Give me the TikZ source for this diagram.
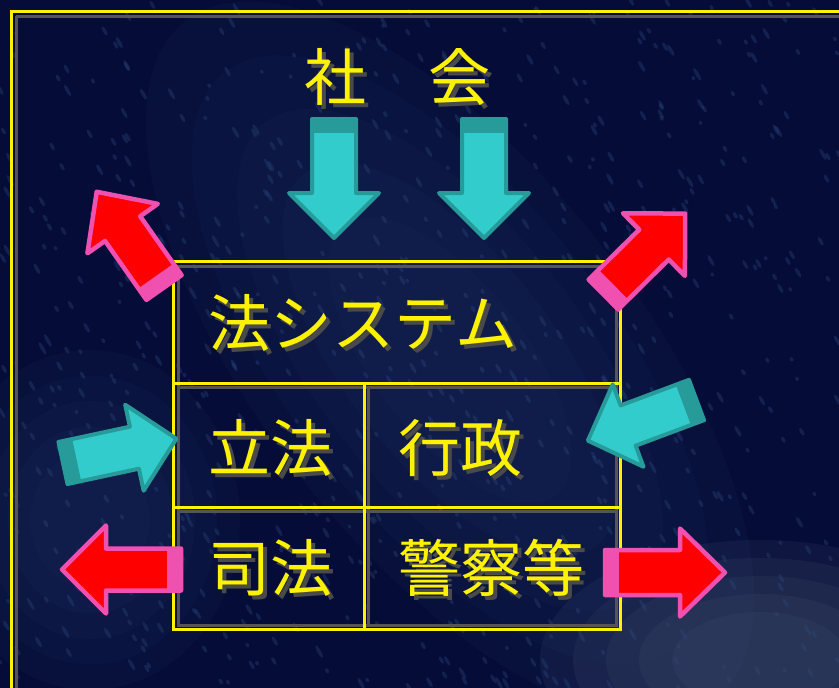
\documentclass[tikz,border=0pt]{standalone}
\usepackage{fontspec}
\newfontfamily\cjk{Noto Sans CJK JP}
\definecolor{bgnavy}{HTML}{060C38}
\definecolor{bglight}{HTML}{2B4A7E}
\definecolor{bggray}{HTML}{4C5C76}
\definecolor{tealfill}{HTML}{33CCCC}
\definecolor{tealedge}{HTML}{279A9A}
\definecolor{redfill}{HTML}{FF0000}
\definecolor{pinkedge}{HTML}{F050B0}
\definecolor{shadowgray}{HTML}{4A4A4A}
\definecolor{framegray}{HTML}{555555}
\tikzset{
  jtext/.style={text=yellow, font=\cjk\fontsize{62}{62}\selectfont, inner sep=0pt},
  jshadow/.style={text=shadowgray, font=\cjk\fontsize{62}{62}\selectfont, inner sep=0pt},
  yline/.style={draw=yellow, line width=3pt},
  gline/.style={draw=framegray, line width=3pt},
  tealarrow/.style={fill=tealfill, draw=tealedge, line width=4pt, line join=round},
  tealband/.style={fill=tealedge},
  redarrow/.style={fill=redfill, draw=pinkedge, line width=4.5pt, line join=round},
  redband/.style={fill=pinkedge},
  glow/.style={fill=#1, opacity=0.07},
}
% tail x, tail y, angle, length, shaft width, head width, head length, arrow style, band style
\newcommand\fatarrow[9]{%
  \begin{scope}[shift={(#1,#2)},rotate=#3]
    \path[#8] (0,-#5/2) -- (#4-#7,-#5/2) -- (#4-#7,-#6/2) -- (#4,0)
      -- (#4-#7,#6/2) -- (#4-#7,#5/2) -- (0,#5/2) -- cycle;
    \path[#9] (-1.5,-#5/2-1.5) rectangle (14,#5/2+1.5);
  \end{scope}}
\newcommand\shtext[4]{%
  \node[jshadow] (#1s) at (#2+4,#3+4) {#4};
  \node[jtext] (#1) at (#2,#3) {#4};}
\begin{document}
\begin{tikzpicture}[x=1pt,y=-1pt]
\useasboundingbox (0,0) rectangle (839,688);
% background
\fill[bgnavy] (0,0) rectangle (839,688);
\begin{scope}
\clip (0,0) rectangle (839,688);
\foreach \s in {1.0,0.85,0.7,0.55,0.4}{
  \fill[glow=bglight, rotate around={-52:(450,360)}] (450,360) ellipse ({430*\s} and {190*\s});
  \fill[glow=bglight] (90,520) ellipse ({150*\s} and {170*\s});
  \fill[glow=bggray, opacity=0.14] (760,660) ellipse ({220*\s} and {120*\s});
}
\pgfmathsetseed{7}
\foreach \i in {1,...,700}{
  \pgfmathsetmacro\xx{rnd*839}
  \pgfmathsetmacro\yy{rnd*688}
  \pgfmathsetmacro\rr{2+rnd*5}
  \fill[bglight, opacity=0.35, rotate around={-60:(\xx,\yy)}] (\xx,\yy) ellipse ({\rr} and 1.8);
}
\end{scope}
% frame
\draw[gline] (16,16) -- (839,16);
\draw[gline] (16,16) -- (16,688);
\draw[yline] (9.5,11) -- (839,11);
\draw[yline] (11,11) -- (11,688);
% table
\draw[gline] (178,266) rectangle (616,625);
\draw[gline] (178,387) -- (616,387);
\draw[gline] (178,511) -- (616,511);
\draw[gline] (368,387) -- (368,625);
\draw[yline] (173,261) rectangle (620,629);
\draw[yline] (173,383) -- (620,383);
\draw[yline] (173,507) -- (620,507);
\draw[yline] (364,383) -- (364,629);
% texts
\shtext{shakai}{397}{77}{社　会}
\shtext{hou}{363}{323}{法システム}
\shtext{rippou}{270}{448}{立法}
\shtext{gyousei}{460}{448}{行政}
\shtext{shihou}{270}{568}{司法}
\shtext{keisatsu}{491}{568}{警察等}
% arrows
\fatarrow{334}{119}{-90}{119}{44}{90}{45}{tealarrow}{tealband}
\fatarrow{484}{119}{-90}{119}{44}{90}{45}{tealarrow}{tealband}
\fatarrow{164}{287.5}{125.1}{117}{43}{86}{45}{redarrow}{redband}
\fatarrow{603.5}{294.5}{44.7}{115}{42}{88}{44}{redarrow}{redband}
\fatarrow{63}{463}{12.1}{116}{43}{88}{43}{tealarrow}{tealband}
\fatarrow{696.5}{400}{200.5}{116}{43}{88}{43}{tealarrow}{tealband}
\fatarrow{181}{569.5}{180}{119}{42}{88}{44}{redarrow}{redband}
\fatarrow{605}{572.5}{0}{120}{45}{88}{45}{redarrow}{redband}
\end{tikzpicture}
\end{document}
